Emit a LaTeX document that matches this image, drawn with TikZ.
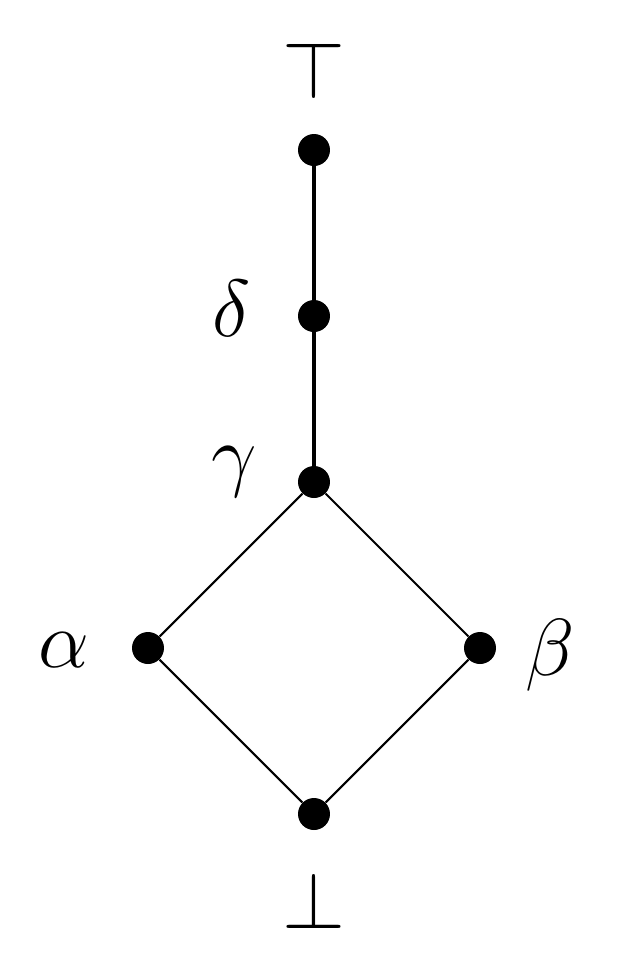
\documentclass[tikz,border=0pt]{standalone}
\newcommand{\biglbl}[1]{\scalebox{1.85}{\fontsize{25}{30}\selectfont$#1$}}
\begin{document}
\begin{tikzpicture}[x=0.02cm,y=-0.02cm,
  dot/.style={circle,fill=black,inner sep=0pt,minimum size=0.64cm},
  lbl/.style={inner sep=0pt},
  thick line/.style={line width=2.4pt},
  thin line/.style={line width=1.2pt}]
\useasboundingbox (0,0) rectangle (623,971);
\node[dot] (t) at (314,150) {};
\node[dot] (d) at (314,316) {};
\node[dot] (g) at (314,482) {};
\node[dot] (a) at (148,648) {};
\node[dot] (b) at (480,648) {};
\node[dot] (z) at (314,814) {};
\node[lbl] (top) at (314,70) {\biglbl{\top}};
\node[lbl] (bot) at (314,900) {\biglbl{\bot}};
\node[lbl] (ld) at (232,308) {\biglbl{\delta}};
\node[lbl] (lg) at (234,472) {\biglbl{\gamma}};
\node[lbl] (la) at (64,650) {\biglbl{\alpha}};
\node[lbl] (lb) at (550,655) {\biglbl{\beta}};
\draw[thick line] (t) -- (d) -- (g);
\draw[thin line] (g) -- (a) -- (z) -- (b) -- (g);
\end{tikzpicture}
\end{document}
